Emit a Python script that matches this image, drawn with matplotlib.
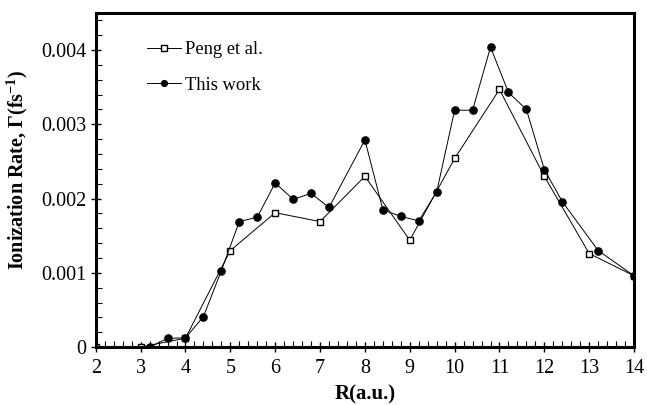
import numpy as np
from matplotlib import pyplot as plt
from matplotlib.ticker import MultipleLocator, FuncFormatter

# Peng et al. (open squares)
peng_r = [2, 3, 4, 5, 6, 7, 8, 9, 10, 11, 12, 13, 14]
peng_rate = [0.0, 0.0, 0.00012, 0.0013, 0.00181, 0.00169, 0.0023, 0.00144,
             0.00254, 0.00347, 0.0023, 0.00126, 0.00096]

# This work (filled circles)
work_r = [3.2, 3.6, 4.0, 4.4, 4.8, 5.2, 5.6, 6.0, 6.4, 6.8, 7.2, 8.0, 8.4,
          8.8, 9.2, 9.6, 10.0, 10.4, 10.8, 11.2, 11.6, 12.0, 12.4, 13.2, 14.0]
work_rate = [0.0, 0.000117, 0.000125, 0.00041, 0.00103, 0.00169, 0.00175,
             0.00221, 0.00199, 0.00207, 0.00188, 0.00279, 0.00185, 0.00176,
             0.0017, 0.00209, 0.00319, 0.00319, 0.00404, 0.00343, 0.0032,
             0.00239, 0.00196, 0.0013, 0.00096]

plt.rcParams['font.family'] = ['Liberation Serif', 'DejaVu Serif']
plt.rcParams['mathtext.fontset'] = 'custom'
plt.rcParams['mathtext.rm'] = 'Liberation Serif:bold'
plt.rcParams['mathtext.bf'] = 'Liberation Serif:bold'
plt.rcParams['mathtext.default'] = 'bf'

fig = plt.figure(figsize=(6.47, 4.05), dpi=100)
ax = fig.add_axes([0.148, 0.143, 0.832, 0.825])

ax.plot(peng_r, peng_rate, color="black", lw=0.7, marker="s", ms=4.6,
        mfc="white", mec="black", mew=1.0, label="Peng et al.")
ax.plot(work_r, work_rate, color="black", lw=0.7, marker="o", ms=5.2,
        mfc="black", mec="black", label="This work")

ax.set_xlim(2, 14)
ax.set_ylim(0, 0.0045)
ax.xaxis.set_major_locator(MultipleLocator(1))
ax.xaxis.set_minor_locator(MultipleLocator(0.2))
ax.yaxis.set_major_locator(MultipleLocator(0.001))
ax.yaxis.set_minor_locator(MultipleLocator(0.0002))
ax.yaxis.set_major_formatter(FuncFormatter(lambda v, p: "0" if abs(v) < 1e-12 else "%.3f" % v))

ax.tick_params(axis="both", which="major", direction="inout", length=7, width=1,
               labelsize=14.5, top=False, right=False)
ax.tick_params(axis="x", which="major", pad=5)
ax.tick_params(axis="both", which="minor", direction="in", length=4, width=0.8,
               top=False, right=False)

for s in ax.spines.values():
    s.set_linewidth(2.2)

ax.set_xlabel("R(a.u.)", fontsize=15, fontweight="bold", labelpad=5)
ax.set_ylabel("Ionization Rate, \u0393(fs$^{-1}$)", fontsize=14.5,
              fontweight="bold")
ax.yaxis.set_label_coords(-0.122, 0.53)

ax.legend(loc="upper left", bbox_to_anchor=(0.065, 0.965), frameon=False,
          fontsize=13.3, handlelength=1.8, handletextpad=0.25,
          labelspacing=1.0, markerscale=0.8)

plt.savefig("out.png", dpi=100)
